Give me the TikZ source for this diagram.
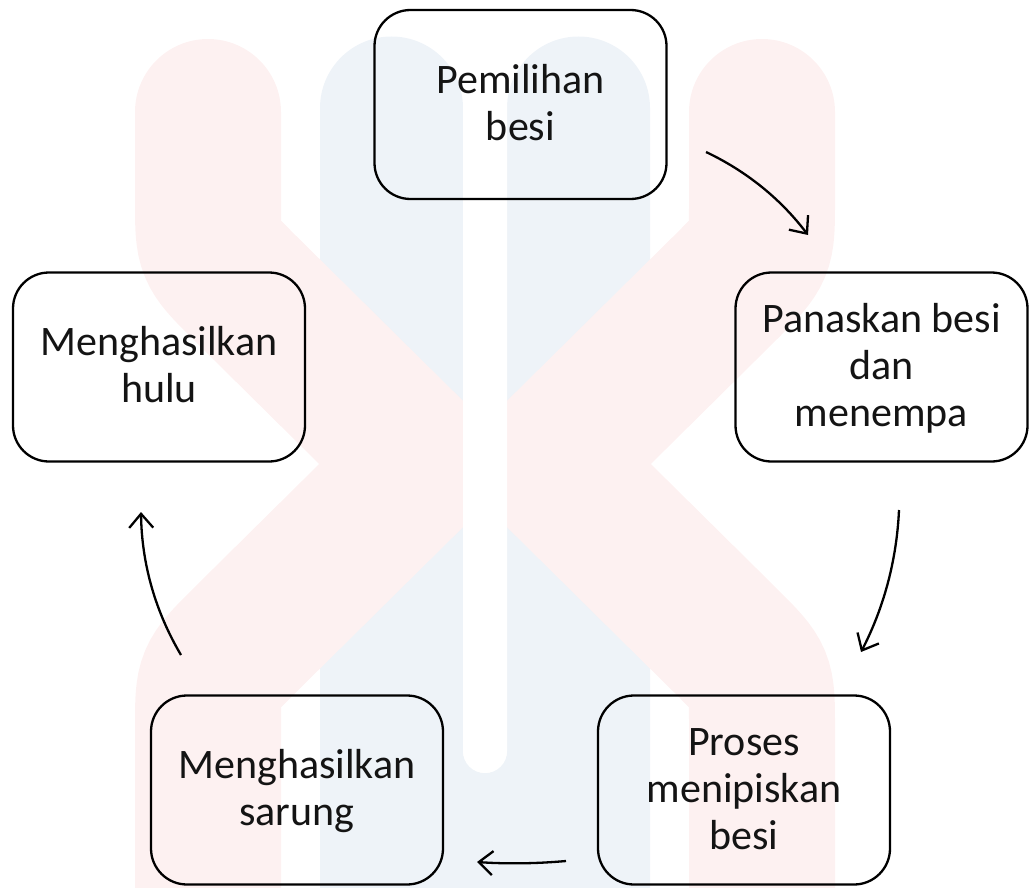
\documentclass[tikz,border=0pt]{standalone}
\usepackage{fontspec}
\setmainfont{Carlito}
\usetikzlibrary{arrows.meta}
\definecolor{wmred}{RGB}{253,241,241}
\definecolor{wmblue}{RGB}{238,243,248}
\newcommand\lnstrut{\rule[-11.5pt]{0pt}{47pt}}
\begin{document}
\begin{tikzpicture}[x=1pt,y=-1pt,
  stepbox/.style={draw=black, line width=2.3pt, rounded corners=36pt,
    minimum width=292pt, minimum height=189pt, align=center, inner sep=0pt,
    text=black!92, font=\fontsize{42}{47}\selectfont},
  flow/.style={line width=2.3pt, -{Straight Barb[length=14pt,width=24pt,line width=2.3pt]}},
  wmstroke/.style={wmred, line width=146pt, line cap=round, line join=miter}]
\useasboundingbox (0,0) rectangle (1030,888);
% watermark
\begin{scope}
\clip (0,0) rectangle (1030,888);
\fill[wmblue] (320,900) -- (320,108) arc[start angle=180,end angle=360,radius=71.5]
  -- (463,751) arc[start angle=180,end angle=0,radius=22]
  -- (507,108) arc[start angle=180,end angle=360,radius=71.5]
  -- (650,900) -- cycle;
\draw[wmstroke] (208,112) -- (208,200) .. controls (208,251) .. (244,287) -- (423,464)
  -- (244,641) .. controls (208,677) .. (208,728) -- (208,920);
\draw[wmstroke] (762,112) -- (762,200) .. controls (762,251) .. (726,287) -- (547,464)
  -- (726,641) .. controls (762,677) .. (762,728) -- (762,920);
\fill[white] (463,-10) -- (463,751) arc[start angle=180,end angle=0,radius=22] -- (507,-10) -- cycle;
\end{scope}
% boxes
\node[stepbox] (top) at (520.5,104.5) {Pemilihan\lnstrut\\besi\lnstrut};
\node[stepbox] (rgt) at (881.5,367) {Panaskan besi\lnstrut\\dan\lnstrut\\menempa\lnstrut};
\node[stepbox] (lft) at (159,367) {Menghasilkan\lnstrut\\hulu\lnstrut};
\node[stepbox] (bl) at (297,790) {Menghasilkan\lnstrut\\sarung\lnstrut};
\node[stepbox] (br) at (744,790) {Proses\lnstrut\\menipiskan\lnstrut\\besi\lnstrut};
% connector ends
\coordinate (a1s) at (706,152);
\coordinate (a1e) at (808,235);
\coordinate (a2s) at (899,510);
\coordinate (a2e) at (861,652);
\coordinate (a3s) at (566,861);
\coordinate (a3e) at (477,862);
\coordinate (a4s) at (181,655);
\coordinate (a4e) at (141,512);
\draw[flow] (a1s) .. controls (746.7,171.3) and (780.7,199) .. (a1e);
\draw[flow] (a2s) .. controls (896.7,560) and (884,607.3) .. (a2e);
\draw[flow] (a3s) .. controls (536,863.7) and (506.3,864) .. (a3e);
\draw[flow] (a4s) .. controls (155,611) and (141.7,563.3) .. (a4e);
\end{tikzpicture}
\end{document}
